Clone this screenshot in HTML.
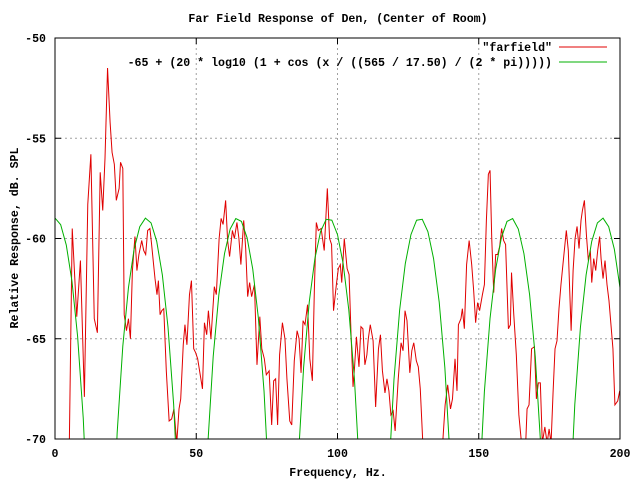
<!DOCTYPE html>
<html><head><meta charset="utf-8"><style>
html,body{margin:0;padding:0;background:#fff;width:640px;height:480px;overflow:hidden}
svg{display:block}
text{font-family:"Liberation Mono",monospace;font-size:11.6px;font-weight:bold;fill:#000}
</style></head><body>
<svg id="chart" width="640" height="480">
<defs><clipPath id="pc"><rect x="55" y="38" width="565" height="401"/></clipPath></defs>
<text x="338" y="22" text-anchor="middle">Far Field Response of Den, (Center of Room)</text>
<g id="grid"></g>
<g id="axes"></g>
<g clip-path="url(#pc)">
<polyline id="red" fill="none" stroke="#e00000" stroke-width="1"/>
<polyline id="green" fill="none" stroke="#00b000" stroke-width="1"/>
</g>
<rect x="55" y="38" width="565" height="401" fill="none" stroke="#000"/>
<text x="552" y="51" text-anchor="end">"farfield"</text>
<line x1="559" y1="47" x2="607" y2="47" stroke="#e00000"/>
<text x="552" y="66" text-anchor="end">-65 + (20 * log10 (1 + cos (x / ((565 / 17.50) / (2 * pi)))))</text>
<line x1="559" y1="62" x2="607" y2="62" stroke="#00b000"/>
<text x="338" y="476" text-anchor="middle">Frequency, Hz.</text>
<text transform="translate(18,238) rotate(-90)" text-anchor="middle">Relative Response, dB. SPL</text>
</svg>
<script>
const xTicks=[0,50,100,150,200];
const yTicks=[-50,-55,-60,-65,-70];
const farFreq=[0,4.9,6.1,7.7,9.0,10.4,11.6,12.7,13.9,15.0,16.0,16.9,17.7,18.6,19.5,20.2,21.0,21.7,22.7,23.2,24.0,24.5,25.3,26.0,26.7,27.4,28.3,29.0,29.7,30.7,31.4,32.1,32.8,33.6,34.2,34.9,35.4,36.1,36.6,37.2,37.8,38.5,39.4,40.4,41.3,42.1,43.1,43.9,44.5,45.4,46.0,46.7,47.6,48.3,49.1,49.8,50.5,52.2,52.9,53.7,54.3,55.2,56.4,57.1,58.1,58.8,59.5,60.4,61.1,61.8,62.8,63.5,64.4,65.1,65.8,66.8,67.5,68.2,68.9,69.6,70.6,71.5,72.5,73.2,74.1,74.8,75.8,76.7,77.4,78.1,78.8,79.5,80.5,81.4,82.1,83.1,83.8,84.7,85.7,86.4,87.1,87.8,88.5,89.4,90.2,91.1,91.8,92.5,93.2,94.2,95.3,96.4,97.2,97.9,98.6,99.6,100.3,101.0,101.5,102.4,103.4,104.1,104.8,105.5,106.0,106.7,107.6,108.3,109.0,109.7,110.4,110.9,111.6,112.6,113.5,114.5,115.2,115.9,116.8,117.5,118.2,118.9,119.7,120.4,121.5,122.5,123.2,123.9,124.6,125.6,126.3,127.0,127.9,128.6,129.3,130.3,133.5,137.1,138.1,139.0,140.0,140.7,141.6,142.3,142.8,143.7,144.2,144.9,145.7,146.6,147.5,148.2,148.9,149.6,150.3,151.3,152.0,152.7,153.4,154.0,154.6,155.3,156.0,156.7,157.4,158.1,158.8,159.5,160.5,161.2,161.6,162.4,163.3,164.2,165.2,166.6,167.1,167.8,168.7,169.7,170.4,171.1,171.8,172.5,173.4,174.2,174.9,175.6,176.3,177.0,177.7,178.4,179.1,179.8,180.5,181.0,181.7,182.7,183.4,184.1,184.8,185.5,186.2,186.7,187.4,188.1,188.8,189.5,190.0,190.7,191.4,192.1,192.8,193.3,194.0,194.7,195.4,196.1,196.8,197.5,198.2,199.2,199.9];
const farDb=[-72,-72,-59.5,-63.9,-61.1,-67.9,-58.3,-55.8,-64.0,-64.7,-56.7,-58.6,-56.0,-51.5,-54.2,-55.7,-56.3,-58.1,-57.5,-56.2,-56.5,-63.8,-64.6,-64.0,-65.0,-61.6,-59.9,-61.6,-60.8,-60.1,-60.6,-60.8,-59.6,-59.5,-60.3,-61.3,-62.0,-62.8,-62.1,-63.8,-63.6,-63.5,-66.6,-69.1,-69.0,-68.5,-70.2,-68.5,-68.0,-65.3,-64.3,-65.3,-62.8,-62.1,-65.5,-65.7,-66.0,-67.5,-64.2,-64.8,-63.6,-65.0,-62.4,-62.8,-60.0,-59.0,-59.3,-58.1,-60.1,-60.9,-59.6,-60.0,-59.2,-60.0,-61.3,-59.1,-60.5,-62.9,-62.2,-62.9,-62.3,-66.3,-63.9,-65.5,-66.0,-66.8,-66.6,-69.3,-67.1,-67.0,-69.3,-65.8,-64.2,-65.0,-67.0,-69.1,-69.3,-66.1,-64.6,-65.0,-66.7,-64.1,-64.3,-63.3,-66.0,-67.1,-62.6,-59.2,-59.6,-59.5,-60.6,-57.5,-60.0,-60.3,-63.6,-62.3,-61.5,-61.3,-62.2,-60.0,-61.5,-61.8,-64.8,-67.4,-66.5,-64.9,-66.4,-64.4,-64.5,-66.3,-65.8,-65.0,-64.3,-65.1,-68.4,-65.5,-64.8,-66.6,-67.7,-67.0,-67.6,-68.8,-68.6,-69.6,-67.0,-65.2,-65.6,-63.6,-64.1,-66.7,-65.6,-65.2,-66.1,-66.4,-67.5,-70.5,-73,-70.5,-68.3,-67.3,-68.5,-68.0,-66.0,-67.6,-64.3,-64.0,-63.5,-64.5,-61.3,-60.1,-61.3,-62.6,-64.2,-63.2,-63.6,-62.8,-62.3,-59.1,-56.8,-56.6,-60.0,-62.7,-60.8,-60.8,-60.4,-59.5,-60.1,-60.3,-64.5,-64.3,-61.7,-63.8,-65.8,-68.8,-70.3,-70.3,-68.5,-68.3,-65.5,-65.4,-68.0,-67.2,-67.2,-70.2,-69.4,-70.2,-69.5,-70.2,-67.7,-65.5,-65.1,-63.5,-62.3,-61.3,-60.3,-59.6,-60.6,-64.6,-61.6,-60.0,-59.4,-60.5,-59.1,-58.6,-58.1,-59.8,-61.1,-60.6,-62.2,-61.0,-61.6,-60.6,-59.9,-61.0,-62.0,-61.1,-62.3,-63.1,-64.3,-65.5,-68.3,-68.1,-67.6];
const modelOffset=-65;
const modelGain=20;
const modelPeriod=565/17.5;
const modelSamples=100;

const X=v=>55+(v-0)/(200-0)*565;
const Y=v=>38+(-50-v)/(-50-(-70))*401;
const NS='http://www.w3.org/2000/svg';
const grid=document.getElementById('grid'), axes=document.getElementById('axes');
function mk(tag,attrs,parent){const e=document.createElementNS(NS,tag);for(const k in attrs)e.setAttribute(k,attrs[k]);parent.appendChild(e);return e;}
xTicks.forEach(t=>{
  const x=X(t);
  if(t>0&&t<200){const g=mk('line',{x1:x,y1:38,x2:x,y2:439,stroke:'#a0a0a0','stroke-dasharray':'2,3'},grid);
  
  }
  const a=mk('line',{x1:x,y1:439,x2:x,y2:433,stroke:'#000'},axes);
  
  
  const b=mk('line',{x1:x,y1:38,x2:x,y2:44,stroke:'#000'},axes);
  
  
  const l=mk('text',{x:x,y:457,'text-anchor':'middle'},axes);l.textContent=t;
  
  
});
yTicks.forEach(t=>{
  const y=Y(t);
  if(t<-50&&t>-70){const g=mk('line',{x1:55,y1:y,x2:620,y2:y,stroke:'#a0a0a0','stroke-dasharray':'2,3'},grid);
  
  }
  const a=mk('line',{x1:55,y1:y,x2:61,y2:y,stroke:'#000'},axes);
  
  
  const b=mk('line',{x1:620,y1:y,x2:614,y2:y,stroke:'#000'},axes);
  
  
  const l=mk('text',{x:46,y:y+4,'text-anchor':'end'},axes);l.textContent=t;
  
  
});
document.getElementById('red').setAttribute('points',farFreq.map((f,i)=>X(f)+','+Y(farDb[i])).join(' '));
const gp=[];
for(let i=0;i<=modelSamples;i++){const f=200*i/modelSamples;
  const c=1+Math.cos(f/(modelPeriod/(2*Math.PI)));
  let v=c>1e-6?modelOffset+modelGain*Math.log10(c):-200; if(v<-80)v=-80;
  gp.push(X(f)+','+Y(v));}
document.getElementById('green').setAttribute('points',gp.join(' '));
</script>
</body></html>
